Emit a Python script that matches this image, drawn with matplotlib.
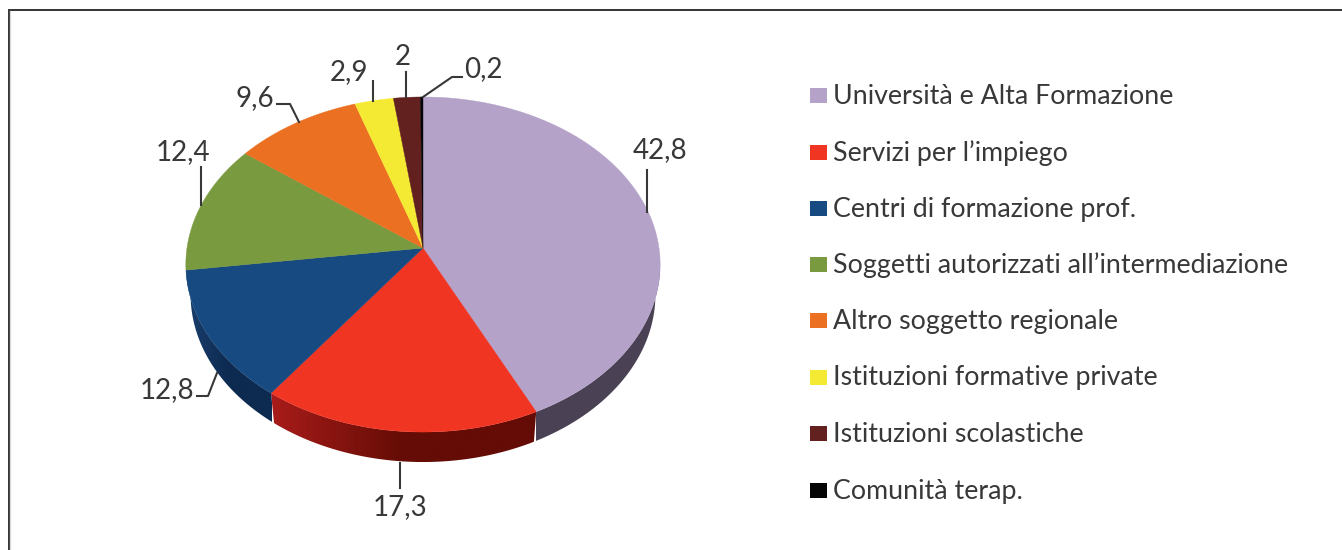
import numpy as np
import matplotlib
matplotlib.use("Agg")
import matplotlib.pyplot as plt
from matplotlib.colors import to_rgb
from matplotlib.patches import Polygon

categories = ["Università e Alta Formazione", "Servizi per l’impiego", "Centri di formazione prof.",
              "Soggetti autorizzati all’intermediazione", "Altro soggetto regionale",
              "Istituzioni formative private", "Istituzioni scolastiche", "Comunità terap."]
values = [42.8, 17.3, 12.8, 12.4, 9.6, 2.9, 2.0, 0.2]
value_labels = ["42,8", "17,3", "12,8", "12,4", "9,6", "2,9", "2", "0,2"]
top_colors = ["#b4a2c9", "#f13523", "#174a80", "#7a9a40", "#ec7022", "#f5ea33", "#62201f", "#050505"]
side_left = ["#4a4254", "#a81c1a", "#1b3f6e", "#4f6629", "#9a4510", "#a09a1f", "#3a1212", "#000000"]
side_right = ["#4a4254", "#640c05", "#0d2a50", "#4f6629", "#9a4510", "#a09a1f", "#3a1212", "#000000"]
label_pos = [(660, 150), (400, 507), (167, 390), (183, 152), (255, 98), (349, 72), (403, 57), (483, 69)]
leaders = [[(647, 170), (647, 212)], [(400, 463), (400, 488)], [(197, 396), (208, 396), (217, 373)],
           [(201, 167), (201, 205)], [(277, 104), (290, 104), (299, 122)], [(373, 81), (373, 101)],
           [(406, 72), (406, 97)], [(423, 97), (452, 77), (462, 77)]]
legend_y = [95, 152, 208, 264, 320, 377, 433, 490]

FONT = "Lato"
W, H = 1342, 550
CX, CY, B, A, K, DEPTH, SHRINK = 423, 248, 236, 165.9, 0.0985, 30, 0.98

def project(theta):
    u, v = np.sin(theta), np.cos(theta)
    w = 1 + K * v
    return CX + B * u / w, CY - A * v / w

fig = plt.figure(figsize=(W / 100, H / 100), dpi=100, facecolor="white")
ax = fig.add_axes([0, 0, 1, 1])

ax.plot([8.7, 8.7, W], [H, 9.7, 9.7], color="#333333", lw=1.4, solid_joinstyle="miter", zorder=1)
ax.plot([10.2, 10.2], [11, H], color="#d8d8d8", lw=0.9, zorder=1)

edges = np.r_[0, np.cumsum(values)] / sum(values) * 2 * np.pi

# side wall: a horizontal gradient clipped to the visible part of each slice's rim
for i in range(len(values)):
    ts = np.linspace(edges[i], edges[i + 1], 300)
    ts = ts[np.cos(ts) < -K]
    if len(ts) < 2:
        continue
    x, y = project(ts)
    lower_x = CX + (x - CX) * SHRINK
    poly = Polygon(np.c_[np.r_[x, lower_x[::-1]], np.r_[y, y[::-1] + DEPTH]], closed=True,
                   facecolor="none", edgecolor="none", transform=ax.transData)
    ax.add_patch(poly)
    frac = np.clip(np.linspace(0, 2, 256), 0, 1)[:, None]
    grad = (np.array(to_rgb(side_left[i])) * (1 - frac) + np.array(to_rgb(side_right[i])) * frac)[None, :, :]
    im = ax.imshow(grad, extent=(x.min(), x.max(), y.max() + DEPTH, y.min()), aspect="auto",
                   interpolation="bilinear", zorder=2)
    im.set_clip_path(poly)

# top face
for i in range(len(values)):
    ts = np.linspace(edges[i], edges[i + 1], 200)
    x, y = project(ts)
    ax.fill(np.r_[CX, x], np.r_[CY, y], facecolor=top_colors[i], edgecolor=top_colors[i], lw=0.3, zorder=3)

for lab, pos, pts in zip(value_labels, label_pos, leaders):
    ax.text(pos[0], pos[1], lab, ha="center", va="center", fontsize=20, family=FONT, color="#383838", zorder=5)
    px, py = zip(*pts)
    ax.plot(px, py, color="#383838", lw=1.5, zorder=4, solid_joinstyle="round")

for name, col, y in zip(categories, top_colors, legend_y):
    ax.fill([810, 826.5, 826.5, 810], [y - 7.5, y - 7.5, y + 8, y + 8], color=col, lw=0, zorder=3)
    ax.text(833, y + 1, name, ha="left", va="center", fontsize=19.3, family=FONT, color="#383838", zorder=5)

ax.set_xlim(0, W)
ax.set_ylim(H, 0)
ax.axis("off")
fig.savefig("out.png", dpi=100)
